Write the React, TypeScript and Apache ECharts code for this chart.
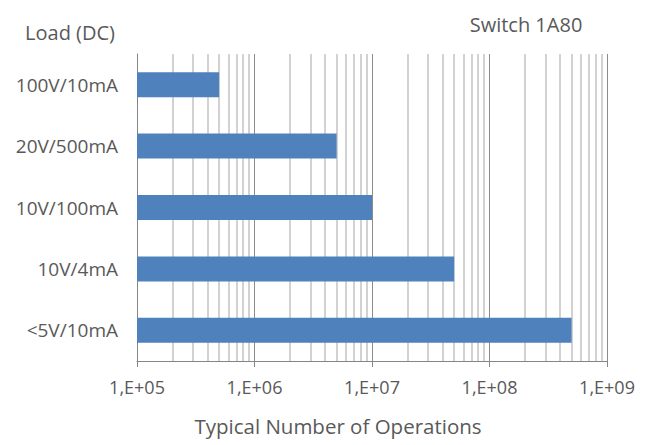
import React, { useEffect, useRef } from "react";
import * as echarts from "echarts";

const categories = ["100V/10mA", "20V/500mA", "10V/100mA", "10V/4mA", "<5V/10mA"];
const operations = [5e5, 5e6, 1e7, 5e7, 5e8];
const axisMin = 1e5;
const axisMax = 1e9;
const decades = [1e5, 1e6, 1e7, 1e8];
const mantissas = [2, 3, 4, 5, 6, 7, 8, 9];
const chartTitle = "Switch 1A80";
const yTitle = "Load (DC)";
const xTitle = "Typical Number of Operations";

const minorGridValues: number[] = [];
decades.forEach((d) => mantissas.forEach((m) => minorGridValues.push(m * d)));

const FONT = "'Open Sans', sans-serif";
const TEXT = "#595959";

export default function App() {
  const ref = useRef<HTMLDivElement>(null);
  useEffect(() => {
    document.body.style.margin = "0";
    const chart = echarts.init(ref.current!, null, { renderer: "svg" });
    chart.setOption({
      animation: false,
      backgroundColor: "#ffffff",
      textStyle: { fontFamily: FONT },
      title: [
        {
          text: chartTitle,
          left: 521,
          top: 9,
          textAlign: "center",
          textStyle: { fontFamily: FONT, fontSize: 20, fontWeight: "normal", color: TEXT },
        },
        {
          text: yTitle,
          left: 65,
          top: 17,
          textAlign: "center",
          textStyle: { fontFamily: FONT, fontSize: 20, fontWeight: "normal", color: TEXT },
        },
        {
          text: xTitle,
          left: 333,
          top: 410,
          textAlign: "center",
          textStyle: { fontFamily: FONT, fontSize: 20.5, fontWeight: "normal", color: TEXT },
        },
      ],
      grid: { left: 137, right: 44, top: 54, bottom: 84, containLabel: false },
      xAxis: {
        type: "log",
        logBase: 10,
        min: axisMin,
        max: axisMax,
        axisLine: { show: true, lineStyle: { color: "#868686", width: 1 } },
        axisTick: { show: true, length: 6, lineStyle: { color: "#868686" } },
        axisLabel: {
          color: TEXT,
          fontSize: 18,
          fontFamily: FONT,
          margin: 17,
          formatter: (v: number) => {
            const e = Math.round(Math.log10(v));
            return "1,E+" + String(e).padStart(2, "0");
          },
        },
        splitLine: { show: true, lineStyle: { color: "#8c8c8c", width: 1 } },
      },
      yAxis: {
        type: "category",
        data: categories,
        inverse: true,
        axisLine: { show: true, lineStyle: { color: "#868686", width: 1 } },
        axisTick: { show: false },
        axisLabel: { color: TEXT, fontSize: 19, fontFamily: FONT, margin: 19 },
        splitLine: { show: false },
      },
      series: [
        {
          type: "bar",
          data: operations,
          barWidth: 25,
          z: 3,
          itemStyle: { color: "#4f81bd" },
          markLine: {
            silent: true,
            z: 1,
            symbol: "none",
            label: { show: false },
            emphasis: { disabled: true },
            lineStyle: { color: "#c3c3c3", width: 1.5, type: "solid" },
            data: minorGridValues.map((v) => ({ xAxis: v })),
          },
        },
      ],
    });
    return () => chart.dispose();
  }, []);
  return <div ref={ref} style={{ width: 651, height: 445 }} />;
}
